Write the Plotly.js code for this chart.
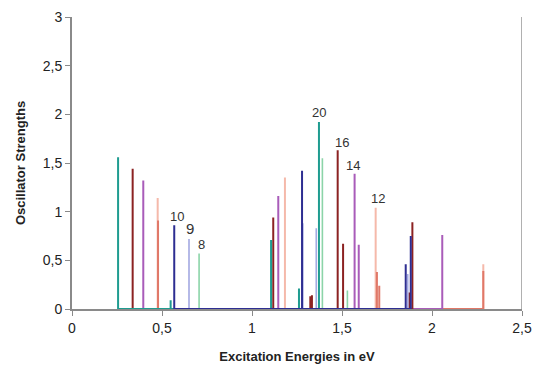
<!DOCTYPE html>
<html>
<head>
<meta charset="utf-8">
<script src="https://cdn.plot.ly/plotly-3.0.1.min.js"></script>
<style>
  html, body { margin: 0; padding: 0; background: #ffffff; }
  #chart { width: 536px; height: 366px; }
</style>
</head>
<body>
<div id="chart"></div>
<script>
// Excitation energies (eV) and oscillator strengths for each stick spectrum
const peachE  = [0.476, 1.183, 1.687, 2.285];
const peachF  = [1.14, 1.35, 1.04, 0.46];

const salmonE = [0.478, 1.694, 1.707, 2.285];
const salmonF = [0.91, 0.38, 0.24, 0.39];

const purpleE = [0.396, 1.146, 1.570, 1.593, 2.057];
const purpleF = [1.32, 1.16, 1.39, 0.66, 0.76];

const redE    = [0.337, 1.118, 1.324, 1.333, 1.476, 1.506, 1.875, 1.891];
const redF    = [1.44, 0.94, 0.13, 0.14, 1.63, 0.67, 0.17, 0.89];

const greenE  = [0.706, 1.391, 1.530];
const greenF  = [0.57, 1.55, 0.19];

const lblueE  = [0.650, 1.282, 1.357, 1.865];
const lblueF  = [0.72, 0.88, 0.83, 0.36];

const tealE   = [0.256, 0.548, 1.106, 1.261, 1.372];
const tealF   = [1.56, 0.09, 0.71, 0.21, 1.92];

const navyE   = [0.568, 1.278, 1.854, 1.882];
const navyF   = [0.86, 1.42, 0.46, 0.75];

// Peak labels
const labelText = ['20', '16', '14', '12', '10', '9', '8'];
const labelX    = [1.374, 1.498, 1.563, 1.702, 0.581, 0.656, 0.720];
const labelY    = [2.02, 1.71, 1.47, 1.14, 0.95, 0.83, 0.66];
const labelSize = [13, 13, 13, 13, 13, 15, 13];

// Turn a list of transitions into a stick line running along the baseline
function sticks(E, F) {
  const idx = E.map((_, i) => i).sort((a, b) => E[a] - E[b]);
  const x = [], y = [];
  idx.forEach(i => {
    x.push(E[i], E[i], E[i]);
    y.push(0, F[i], 0);
  });
  return { x, y };
}

function trace(E, F, color, width) {
  const s = sticks(E, F);
  return {
    type: 'scatter', mode: 'lines',
    x: s.x, y: s.y,
    line: { color: color, width: width },
    hoverinfo: 'skip', showlegend: false
  };
}

const data = [
  trace(peachE,  peachF,  '#f5b9aa', 2),
  trace(salmonE, salmonF, '#e07868', 2),
  trace(purpleE, purpleF, '#a95cb9', 2),
  trace(redE,    redF,    '#8c2222', 2),
  trace(greenE,  greenF,  '#8cd4a8', 1.6),
  trace(lblueE,  lblueF,  '#a3a9e2', 1.6),
  trace(tealE,   tealF,   '#1f9c90', 2),
  trace(navyE,   navyF,   '#2e2e92', 2)
];

const annotations = labelText.map((t, i) => ({
  x: labelX[i], y: labelY[i], xref: 'x', yref: 'y',
  text: t, showarrow: false,
  font: { family: 'Liberation Sans, Arial, sans-serif', size: labelSize[i], color: '#333333' }
}));

const layout = {
  width: 536, height: 366,
  margin: { l: 72, r: 14, t: 17, b: 57 },
  paper_bgcolor: '#ffffff', plot_bgcolor: '#ffffff',
  separators: ', ',
  font: { family: 'Liberation Sans, Arial, sans-serif', color: '#222222' },
  xaxis: {
    range: [0, 2.5], dtick: 0.5, tick0: 0,
    showgrid: false, zeroline: false,
    showline: true, linecolor: '#8a8a8a', linewidth: 2,
    ticks: 'outside', ticklen: 5, tickcolor: '#8a8a8a', tickwidth: 1,
    tickfont: { size: 14, color: '#222222' },
    title: { text: '<b>Excitation Energies in eV</b>', font: { size: 13, color: '#222222' }, standoff: 17 }
  },
  yaxis: {
    range: [0, 3], dtick: 0.5, tick0: 0,
    showgrid: false, zeroline: false,
    showline: true, linecolor: '#8a8a8a', linewidth: 2,
    ticks: 'outside', ticklen: 5, tickcolor: '#8a8a8a', tickwidth: 1,
    tickfont: { size: 14, color: '#222222' },
    title: { text: '<b>Oscillator Strengths</b>', font: { size: 13, color: '#222222' }, standoff: 14 }
  },
  shapes: [
    { type: 'line', xref: 'x', yref: 'y', x0: 2.5, x1: 2.5, y0: 0, y1: 3,
      line: { color: '#b0b0b0', width: 2 } }
  ],
  annotations: annotations
};

Plotly.newPlot('chart', data, layout, { staticPlot: true, displayModeBar: false });
</script>
</body>
</html>
